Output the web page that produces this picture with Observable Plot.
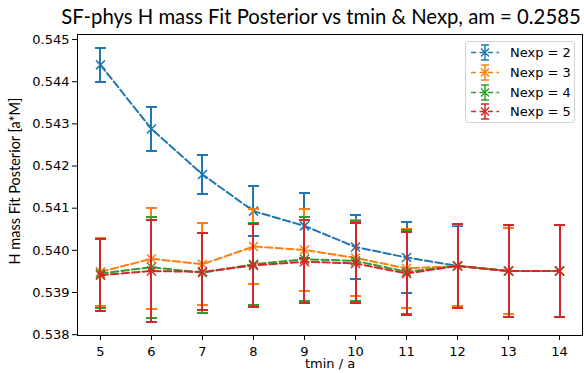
<!DOCTYPE html>
<html>
<head>
<meta charset="utf-8">
<script src="https://cdn.jsdelivr.net/npm/d3@7"></script>
<script src="https://cdn.jsdelivr.net/npm/@observablehq/plot@0.6"></script>
<style>
  html, body { margin: 0; padding: 0; background: #fff; }
  #wrap { position: relative; width: 584px; height: 373px; }
  #legend { position: absolute; left: 465px; top: 41px; width: 110px; height: 82px;
    border: 1px solid #d4d4d4; border-radius: 3px; background: rgba(255,255,255,0.85);
    font-family: "DejaVu Sans", sans-serif; font-size: 13px; box-sizing: border-box; padding-top: 1px; }
  .entry { display: flex; align-items: center; height: 19.7px; }
  .entry svg { margin-left: 4px; margin-right: 10px; }
</style>
</head>
<body>
<div id="wrap"><div id="chart"></div><div id="legend"></div></div>
<script>
const title = "SF-phys H mass Fit Posterior vs tmin & Nexp, am = 0.2585";
const xLabel = "tmin / a";
const yLabel = "H mass Fit Posterior [a*M]";
const xTicks = [5, 6, 7, 8, 9, 10, 11, 12, 13, 14];
const yTicks = [0.538, 0.539, 0.540, 0.541, 0.542, 0.543, 0.544, 0.545];
const seriesNames = ["Nexp = 2", "Nexp = 3", "Nexp = 4", "Nexp = 5"];
const colors = ["#1f77b4", "#ff7f0e", "#2ca02c", "#d62728"];
const tmin = [5, 6, 7, 8, 9, 10, 11, 12, 13, 14];

const nexp2 = [0.54440, 0.54288, 0.54180, 0.54093, 0.54058, 0.54008, 0.53983, 0.53963, 0.53951, 0.53951];
const err2  = [0.00040, 0.00053, 0.00047, 0.00060, 0.00077, 0.00077, 0.00084, 0.00095, 0.00110, 0.00110];
const nexp3 = [0.53949, 0.53980, 0.53967, 0.54009, 0.54001, 0.53982, 0.53957, 0.53963, 0.53951, 0.53951];
const err3  = [0.00081, 0.00120, 0.00097, 0.00089, 0.00097, 0.00090, 0.00094, 0.00096, 0.00101, 0.00110];
const nexp4 = [0.53945, 0.53960, 0.53947, 0.53967, 0.53979, 0.53975, 0.53949, 0.53963, 0.53951, 0.53951];
const err4  = [0.00082, 0.00120, 0.00095, 0.00097, 0.00100, 0.00094, 0.00099, 0.00100, 0.00110, 0.00110];
const nexp5 = [0.53941, 0.53951, 0.53949, 0.53964, 0.53973, 0.53969, 0.53945, 0.53963, 0.53951, 0.53951];
const err5  = [0.00086, 0.00120, 0.00091, 0.00098, 0.00098, 0.00095, 0.00098, 0.00100, 0.00110, 0.00110];

const values = [nexp2, nexp3, nexp4, nexp5];
const errors = [err2, err3, err4, err5];

const capSymbol = { draw(ctx) { ctx.moveTo(-5.5, 0); ctx.lineTo(5.5, 0); } };
const xSymbol = { draw(ctx) { const s = 4.5; ctx.moveTo(-s, -s); ctx.lineTo(s, s); ctx.moveTo(-s, s); ctx.lineTo(s, -s); } };

const marks = [];
seriesNames.forEach((name, i) => {
  const rows = tmin.map((t, j) => ({ t, v: values[i][j], lo: values[i][j] - errors[i][j], hi: values[i][j] + errors[i][j] }));
  const c = colors[i];
  marks.push(Plot.line(rows, { x: "t", y: "v", stroke: c, strokeWidth: 2, strokeDasharray: "7.4,3.2" }));
  marks.push(Plot.ruleX(rows, { x: "t", y1: "lo", y2: "hi", stroke: c, strokeWidth: 2, shapeRendering: "crispEdges" }));
  marks.push(Plot.dot(rows, { x: "t", y: "lo", symbol: capSymbol, fill: "none", stroke: c, strokeWidth: 2, shapeRendering: "crispEdges" }));
  marks.push(Plot.dot(rows, { x: "t", y: "hi", symbol: capSymbol, fill: "none", stroke: c, strokeWidth: 2, shapeRendering: "crispEdges" }));
  marks.push(Plot.dot(rows, { x: "t", y: "v", symbol: xSymbol, fill: "none", stroke: c, strokeWidth: 1.5 }));
});

const chart = Plot.plot({
  width: 584, height: 373,
  marginLeft: 77, marginRight: 2, marginTop: 34, marginBottom: 38,
  style: { background: "#fff", overflow: "visible" },
  x: { domain: [4.55, 14.45] },
  y: { domain: [0.53798, 0.54512] },
  marks: [
    Plot.axisX({ ticks: xTicks, tickFormat: d => String(d), tickSize: 5, tickPadding: 6, fontSize: 13, fontFamily: "DejaVu Sans", label: null, stroke: "#000", color: "#000" }),
    Plot.axisY({ ticks: yTicks, tickFormat: d3.format(".3f"), tickSize: 5, tickPadding: 3, fontSize: 13, fontFamily: "DejaVu Sans", label: null, stroke: "#000", color: "#000" }),
    ...marks,
    Plot.frame({ stroke: "#000", strokeWidth: 1 }),
    Plot.text([title], { text: d => d, frameAnchor: "top", dy: -17, dx: -9, lineAnchor: "middle", textAnchor: "middle", fontSize: 20.3, fontFamily: "Lato", fill: "#000" }),
    Plot.text([yLabel], { text: d => d, frameAnchor: "left", dx: -62, dy: -4, rotate: -90, lineAnchor: "middle", textAnchor: "middle", fontSize: 14.5, fontFamily: "Lato", fill: "#000" }),
    Plot.text([xLabel], { text: d => d, frameAnchor: "bottom", dy: 28, lineAnchor: "middle", textAnchor: "middle", fontSize: 13, fontFamily: "DejaVu Sans", fill: "#000" })
  ]
});
document.getElementById("chart").appendChild(chart);

const legend = document.getElementById("legend");
seriesNames.forEach((name, i) => {
  const c = colors[i];
  const e = document.createElement("div");
  e.className = "entry";
  e.innerHTML = `<svg width="30" height="19" viewBox="0 0 30 19">
    <line x1="1" x2="29" y1="9.5" y2="9.5" stroke="${c}" stroke-width="1.5" stroke-dasharray="5,3.5"/>
    <line x1="15" x2="15" y1="2" y2="17" stroke="${c}" stroke-width="1.5"/>
    <line x1="11" x2="19" y1="2" y2="2" stroke="${c}" stroke-width="1.5"/>
    <line x1="11" x2="19" y1="17" y2="17" stroke="${c}" stroke-width="1.5"/>
    <path d="M11,5.5L19,13.5M11,13.5L19,5.5" stroke="${c}" stroke-width="1.5"/>
  </svg><span>${name}</span>`;
  legend.appendChild(e);
});
</script>
</body>
</html>
